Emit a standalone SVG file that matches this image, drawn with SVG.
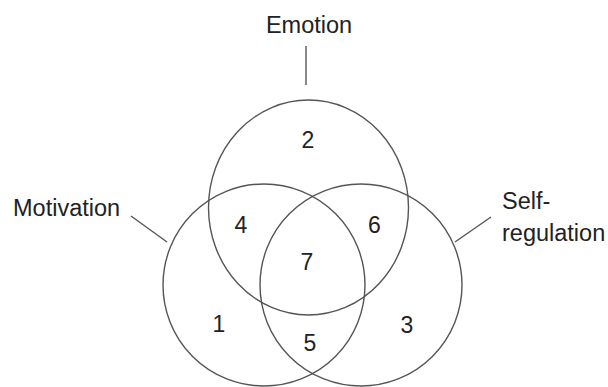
<svg xmlns="http://www.w3.org/2000/svg" width="608" height="387" viewBox="0 0 608 387">
  <style>
    .set { fill: none; stroke: #555; stroke-width: 1.4; }
    .lead { stroke: #555; stroke-width: 1.4; fill: none; }
    .label { font-family: "Liberation Sans", Arial, sans-serif; font-size: 23.5px; fill: #222; }
    .num { font-family: "Liberation Sans", Arial, sans-serif; font-size: 23px; fill: #222; text-anchor: middle; }
  </style>
  <rect width="608" height="387" fill="#fff"/>
  <g id="emotion">
    <ellipse class="set" cx="308.5" cy="207.5" rx="100" ry="107.5"/>
    <text class="label" x="309" y="33" text-anchor="middle">Emotion</text>
  </g>
  <g id="motivation">
    <circle class="set" cx="264" cy="285" r="101"/>
    <text class="label" x="13" y="216">Motivation</text>
  </g>
  <g id="self-regulation">
    <circle class="set" cx="361" cy="285" r="101"/>
    <text class="label" x="502" y="209">Self-</text>
    <text class="label" x="502" y="241">regulation</text>
  </g>
  <g id="regions">
    <text class="num" x="308" y="148">2</text>
    <text class="num" x="241" y="233">4</text>
    <text class="num" x="374.5" y="233">6</text>
    <text class="num" x="307" y="270">7</text>
    <text class="num" x="219" y="332">1</text>
    <text class="num" x="310" y="350.5">5</text>
    <text class="num" x="407" y="332.5">3</text>
  </g>
  <g id="connectors">
    <line class="lead" x1="306" y1="46" x2="306" y2="85"/>
    <line class="lead" x1="131" y1="216" x2="167" y2="242"/>
    <line class="lead" x1="491" y1="217" x2="455" y2="242"/>
  </g>
</svg>
